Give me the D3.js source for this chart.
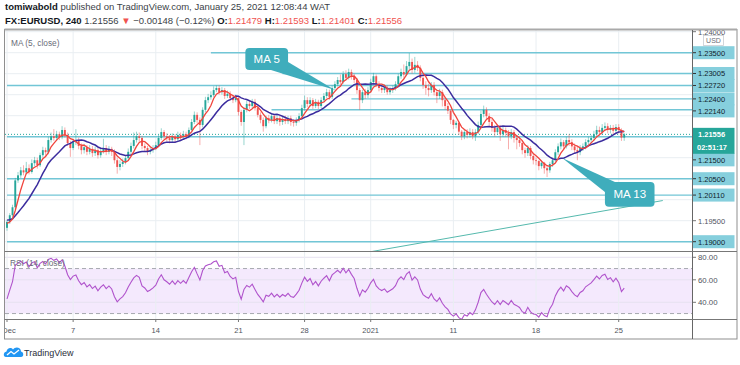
<!DOCTYPE html>
<html>
<head>
<meta charset="utf-8">
<script src="https://cdn.jsdelivr.net/npm/d3@7"></script>
<style>
  body { margin: 0; background: #fff; }
  svg text { font-family: "Liberation Sans", Arial, sans-serif; }
</style>
</head>
<body>
<div id="chart"></div>
<script>
// ---- data (EURUSD, 4h candles, 1 Dec 2020 -> 25 Jan 2021) ----

// closes from late November, only used to warm up the MA / RSI
const preCloses = [1.1962,1.1958,1.1950,1.1955,1.1948,1.1960,1.1966,1.1958,1.1962,1.1952,1.1945,1.1950,1.1942,1.1933];

const closes = [
  1.1947,1.1963,1.1982,1.2046,1.2058,1.2070,1.2065,1.2075,1.2066,1.2087,
  1.2094,1.2082,1.2106,1.2118,1.2113,1.2142,1.2151,1.2147,1.2156,1.2149,
  1.2166,1.2154,1.2135,1.2123,1.2137,1.2142,1.2128,1.2118,1.2125,1.2114,
  1.2121,1.2111,1.2118,1.2106,1.2116,1.2123,1.2114,1.2121,1.2114,1.2094,
  1.2078,1.2085,1.2090,1.2099,1.2114,1.2128,1.2142,1.2151,1.2147,1.2128,
  1.2123,1.2114,1.2118,1.2123,1.2130,1.2147,1.2161,1.2151,1.2147,1.2142,
  1.2151,1.2144,1.2154,1.2149,1.2156,1.2151,1.2166,1.2185,1.2202,1.2190,
  1.2178,1.2214,1.2237,1.2244,1.2249,1.2261,1.2266,1.2256,1.2261,1.2247,
  1.2252,1.2242,1.2237,1.2242,1.2209,1.2185,1.2214,1.2228,1.2223,1.2233,
  1.2218,1.2202,1.2190,1.2175,1.2194,1.2190,1.2199,1.2187,1.2194,1.2185,
  1.2192,1.2187,1.2194,1.2185,1.2183,1.2190,1.2199,1.2218,1.2237,1.2228,
  1.2237,1.2223,1.2233,1.2223,1.2237,1.2247,1.2256,1.2245,1.2266,1.2275,
  1.2285,1.2280,1.2299,1.2290,1.2304,1.2294,1.2285,1.2261,1.2237,1.2256,
  1.2249,1.2261,1.2280,1.2294,1.2275,1.2266,1.2261,1.2266,1.2256,1.2261,
  1.2266,1.2275,1.2294,1.2304,1.2298,1.2318,1.2328,1.2309,1.2321,1.2314,
  1.2290,1.2273,1.2266,1.2261,1.2273,1.2256,1.2247,1.2256,1.2237,1.2223,
  1.2212,1.2190,1.2178,1.2183,1.2162,1.2151,1.2161,1.2154,1.2161,1.2151,
  1.2161,1.2178,1.2204,1.2214,1.2199,1.2185,1.2171,1.2161,1.2171,1.2156,
  1.2166,1.2159,1.2151,1.2161,1.2147,1.2142,1.2135,1.2118,1.2111,1.2123,
  1.2104,1.2094,1.2092,1.2080,1.2088,1.2075,1.2070,1.2085,1.2094,1.2113,
  1.2127,1.2137,1.2127,1.2142,1.2137,1.2127,1.2118,1.2113,1.2123,1.2127,
  1.2137,1.2142,1.2147,1.2156,1.2166,1.2161,1.2171,1.2175,1.2166,1.2171,
  1.2164,1.2173,1.2166,1.21479,1.21556
];

const highs = [
  1.1952,1.1968,1.1988,1.2052,1.2066,1.2078,1.2082,1.2090,1.2084,1.2096,
  1.2102,1.2100,1.2112,1.2126,1.2124,1.2150,1.2160,1.2168,1.2164,1.2162,
  1.2175,1.2172,1.2160,1.2140,1.2145,1.2168,1.2148,1.2134,1.2133,1.2130,
  1.2130,1.2128,1.2126,1.2124,1.2124,1.2145,1.2130,1.2128,1.2126,1.2120,
  1.2100,1.2094,1.2098,1.2106,1.2122,1.2136,1.2160,1.2162,1.2160,1.2152,
  1.2134,1.2128,1.2126,1.2130,1.2138,1.2155,1.2170,1.2166,1.2158,1.2154,
  1.2158,1.2156,1.2162,1.2160,1.2164,1.2162,1.2172,1.2192,1.2210,1.2208,
  1.2196,1.2220,1.2245,1.2252,1.2258,1.2270,1.2272,1.2272,1.2268,1.2266,
  1.2260,1.2258,1.2248,1.2250,1.2246,1.2214,1.2220,1.2236,1.2236,1.2240,
  1.2240,1.2224,1.2208,1.2196,1.2200,1.2202,1.2206,1.2204,1.2202,1.2200,
  1.2198,1.2200,1.2200,1.2200,1.2192,1.2196,1.2206,1.2226,1.2248,1.2244,
  1.2244,1.2242,1.2240,1.2238,1.2244,1.2254,1.2264,1.2262,1.2272,1.2282,
  1.2292,1.2298,1.2306,1.2308,1.2312,1.2310,1.2300,1.2290,1.2266,1.2262,
  1.2264,1.2268,1.2288,1.2302,1.2298,1.2282,1.2272,1.2274,1.2272,1.2268,
  1.2272,1.2282,1.2300,1.2312,1.2322,1.2330,1.2349,1.2336,1.2340,1.2330,
  1.2320,1.2296,1.2282,1.2276,1.2280,1.2280,1.2262,1.2264,1.2262,1.2244,
  1.2230,1.2214,1.2192,1.2188,1.2186,1.2166,1.2168,1.2168,1.2170,1.2168,
  1.2168,1.2186,1.2212,1.2224,1.2220,1.2206,1.2192,1.2178,1.2178,1.2178,
  1.2174,1.2172,1.2166,1.2168,1.2166,1.2154,1.2150,1.2140,1.2124,1.2130,
  1.2128,1.2110,1.2100,1.2094,1.2094,1.2090,1.2082,1.2090,1.2100,1.2120,
  1.2134,1.2146,1.2142,1.2150,1.2156,1.2144,1.2134,1.2126,1.2130,1.2134,
  1.2144,1.2150,1.2154,1.2164,1.2176,1.2174,1.2180,1.2184,1.2182,1.2178,
  1.2178,1.2180,1.2180,1.2170,1.21593
];

const lows = [
  1.1926,1.1942,1.1958,1.1978,1.2040,1.2052,1.2058,1.2060,1.2060,1.2062,
  1.2080,1.2074,1.2078,1.2100,1.2104,1.2108,1.2136,1.2140,1.2140,1.2142,
  1.2144,1.2148,1.2128,1.2102,1.2118,1.2130,1.2120,1.2108,1.2110,1.2106,
  1.2108,1.2102,1.2104,1.2098,1.2100,1.2110,1.2106,1.2108,1.2104,1.2086,
  1.2062,1.2070,1.2078,1.2084,1.2094,1.2108,1.2122,1.2136,1.2138,1.2120,
  1.2114,1.2106,1.2108,1.2112,1.2118,1.2126,1.2142,1.2144,1.2138,1.2134,
  1.2136,1.2136,1.2140,1.2142,1.2144,1.2144,1.2146,1.2160,1.2180,1.2182,
  1.2130,1.2172,1.2208,1.2230,1.2238,1.2244,1.2256,1.2250,1.2250,1.2240,
  1.2242,1.2236,1.2230,1.2232,1.2200,1.2176,1.2130,1.2208,1.2216,1.2218,
  1.2212,1.2196,1.2182,1.2162,1.2170,1.2182,1.2184,1.2180,1.2180,1.2176,
  1.2178,1.2180,1.2180,1.2176,1.2174,1.2176,1.2184,1.2194,1.2212,1.2220,
  1.2222,1.2216,1.2218,1.2216,1.2218,1.2232,1.2242,1.2238,1.2240,1.2260,
  1.2270,1.2274,1.2276,1.2284,1.2286,1.2286,1.2278,1.2252,1.2214,1.2230,
  1.2240,1.2242,1.2256,1.2274,1.2268,1.2258,1.2254,1.2254,1.2250,1.2250,
  1.2254,1.2260,1.2270,1.2288,1.2290,1.2294,1.2310,1.2300,1.2302,1.2306,
  1.2282,1.2264,1.2250,1.2246,1.2254,1.2248,1.2230,1.2240,1.2222,1.2214,
  1.2204,1.2180,1.2168,1.2170,1.2154,1.2142,1.2144,1.2146,1.2148,1.2144,
  1.2140,1.2156,1.2172,1.2196,1.2192,1.2176,1.2162,1.2150,1.2154,1.2140,
  1.2150,1.2150,1.2120,1.2144,1.2136,1.2120,1.2126,1.2108,1.2100,1.2104,
  1.2096,1.2084,1.2082,1.2070,1.2074,1.2062,1.2054,1.2064,1.2078,1.2088,
  1.2106,1.2120,1.2118,1.2122,1.2128,1.2118,1.2110,1.2094,1.2106,1.2116,
  1.2120,1.2130,1.2134,1.2140,1.2150,1.2152,1.2154,1.2164,1.2158,1.2158,
  1.2156,1.2158,1.2158,1.2140,1.21401
];

// time axis (candle index of each label)
const dateTickIdx = [0, 24, 54, 84, 108, 132, 162, 192, 222];
const dateTickLabels = ["Dec", "7", "14", "21", "28", "2021", "11", "18", "25"];

const priceTicks = [1.19, 1.195, 1.2, 1.205, 1.21, 1.215, 1.22, 1.225, 1.23, 1.235, 1.24];
const rsiTicks = [40, 60, 80];

// horizontal lines drawn by the author, and the candle index where each starts
const levels = [1.235, 1.23005, 1.2272, 1.224, 1.2214, 1.215, 1.205, 1.2011, 1.19];
const levelFrom = [74, 100, 0, 125, 96, 0, 0, 0, 0];

// trend line [index, price]
const trendStart = [131, 1.1875];
const trendEnd = [238, 1.1998];

const lastPrice = 1.21556;
const countdown = "02:51:17";

// callouts: box corners and pointer tip, in [index, price]
const calloutText = ["MA 5", "MA 13"];
const calloutBox = [[86.5, 1.2361, 102, 1.2309], [217, 1.2042, 235, 1.1983]];
const calloutTip = [[119, 1.2261], [201.5, 1.2099]];

// ---- layout ----
const svgWidth = 740, svgHeight = 365;
const paneL = 5, paneR = 692, paneT = 30, paneB = 251, rsiB = 319, axisB = 339, frameR = 737;

const upColor = "#26a69a", downColor = "#ef5350";
const levelColor = "#72c6d6";
const gridColor = "#e9eef2";

const x = d3.scaleLinear().domain([0, 248.6]).range([7, 692]);
const y = d3.scaleLinear().domain([1.19, 1.24]).range([241.7, 31.7]);
const yR = d3.scaleLinear().domain([40, 80]).range([302.3, 257.3]);

const svg = d3.select("#chart").append("svg")
    .attr("width", svgWidth)
    .attr("height", svgHeight);

const defs = svg.append("defs");
defs.append("clipPath").attr("id", "mainClip").append("rect")
    .attr("x", paneL).attr("y", paneT).attr("width", paneR - paneL).attr("height", paneB - paneT);
defs.append("clipPath").attr("id", "rsiClip").append("rect")
    .attr("x", paneL).attr("y", paneB).attr("width", paneR - paneL).attr("height", rsiB - paneB);
defs.append("clipPath").attr("id", "axisClip").append("rect")
    .attr("x", paneR).attr("y", paneT).attr("width", frameR - paneR).attr("height", axisB - paneT);
defs.append("clipPath").attr("id", "timeClip").append("rect")
    .attr("x", paneL).attr("y", rsiB).attr("width", paneR - paneL).attr("height", axisB - rsiB);

// indicators
const allCloses = preCloses.concat(closes);
const off = preCloses.length;
const opens = closes.map((c, i) => allCloses[i + off - 1]);

function movingAvg(n) {
    return closes.map((c, i) => d3.mean(allCloses.slice(i + off - n + 1, i + off + 1)));
}
function rsi(period) {
    const out = [];
    let ag = 0, al = 0;
    for (let k = 1; k < allCloses.length; k++) {
        const ch = allCloses[k] - allCloses[k - 1];
        const g = Math.max(ch, 0), l = Math.max(-ch, 0);
        if (k <= period) { ag += g / period; al += l / period; }
        else { ag = (ag * (period - 1) + g) / period; al = (al * (period - 1) + l) / period; }
        if (k >= off) out.push(al === 0 ? 100 : 100 - 100 / (1 + ag / al));
    }
    return out;
}
const ma5 = movingAvg(5);
const ma13 = movingAvg(13);
const rsi14 = rsi(14);

// ---- main pane ----
const main = svg.append("g").attr("clip-path", "url(#mainClip)");

main.selectAll(".hgrid").data(priceTicks).join("line")
    .attr("x1", paneL).attr("x2", paneR)
    .attr("y1", d => y(d)).attr("y2", d => y(d))
    .attr("stroke", gridColor);
main.selectAll(".vgrid").data(dateTickIdx).join("line")
    .attr("x1", d => x(d)).attr("x2", d => x(d))
    .attr("y1", paneT).attr("y2", paneB)
    .attr("stroke", gridColor);

main.selectAll(".level").data(levels).join("line")
    .attr("x1", (d, i) => Math.max(paneL, x(levelFrom[i]))).attr("x2", paneR)
    .attr("y1", d => y(d)).attr("y2", d => y(d))
    .attr("stroke", levelColor).attr("stroke-width", 1.4);

main.append("line")
    .attr("x1", x(trendStart[0])).attr("y1", y(trendStart[1]))
    .attr("x2", x(trendEnd[0])).attr("y2", y(trendEnd[1]))
    .attr("stroke", "#55b9ad").attr("stroke-width", 1);

// current price dotted line
main.append("line")
    .attr("x1", paneL).attr("x2", paneR)
    .attr("y1", y(lastPrice)).attr("y2", y(lastPrice))
    .attr("stroke", upColor).attr("stroke-dasharray", "1,2");

// candles
const idx = d3.range(closes.length);
const candleColor = i => closes[i] >= opens[i] ? upColor : downColor;
main.selectAll(".wick").data(idx).join("line")
    .attr("x1", i => x(i)).attr("x2", i => x(i))
    .attr("y1", i => y(highs[i])).attr("y2", i => y(lows[i]))
    .attr("stroke", candleColor).attr("stroke-opacity", 0.6).attr("stroke-width", 0.8);
main.selectAll(".body").data(idx).join("rect")
    .attr("x", i => x(i) - 0.95)
    .attr("width", 1.9)
    .attr("y", i => y(Math.max(opens[i], closes[i])))
    .attr("height", i => Math.max(0.8, Math.abs(y(opens[i]) - y(closes[i]))))
    .attr("fill", candleColor);

const lineGen = arr => d3.line().x((d, i) => x(i)).y(d => y(d))(arr);
main.append("path").attr("d", lineGen(ma13))
    .attr("fill", "none").attr("stroke", "#3b2c9e").attr("stroke-width", 1.5);
main.append("path").attr("d", lineGen(ma5))
    .attr("fill", "none").attr("stroke", "#f0443c").attr("stroke-width", 1.3);

// callouts
calloutText.forEach((t, k) => {
    const b = calloutBox[k], tip = calloutTip[k];
    const x0 = x(b[0]), y0 = y(b[1]), x1 = x(b[2]), y1 = y(b[3]);
    const tx = x(tip[0]), ty = y(tip[1]);
    // pointer base: bottom-right corner for MA 5, top-left for MA 13
    const base = k === 0
        ? [[x0 + 0.6 * (x1 - x0), y1], [x1, y1 - 8]]
        : [[x0 + 10, y0], [x0, y0 + 10]];
    main.append("path")
        .attr("d", `M${base[0][0]},${base[0][1]}L${tx},${ty}L${base[1][0]},${base[1][1]}Z`)
        .attr("fill", "#3fadbc");
    main.append("rect")
        .attr("x", x0).attr("y", y0).attr("width", x1 - x0).attr("height", y1 - y0)
        .attr("rx", 4).attr("fill", "#3fadbc");
    main.append("text")
        .attr("x", (x0 + x1) / 2).attr("y", (y0 + y1) / 2 + 4)
        .attr("text-anchor", "middle")
        .attr("font-size", 11.5).attr("fill", "#fff")
        .text(t);
});

svg.append("text")
    .attr("x", 11).attr("y", 45.5)
    .attr("font-size", 8.3).attr("fill", "#6a6d78")
    .text("MA (5, close)");

// ---- RSI pane ----
const rp = svg.append("g").attr("clip-path", "url(#rsiClip)");
rp.append("rect")
    .attr("x", paneL).attr("width", paneR - paneL)
    .attr("y", yR(70)).attr("height", yR(30) - yR(70))
    .attr("fill", "#f4e9fd");
rp.selectAll(".rgrid").data(rsiTicks).join("line")
    .attr("x1", paneL).attr("x2", paneR)
    .attr("y1", d => yR(d)).attr("y2", d => yR(d))
    .attr("stroke", "#e6e1f0");
rp.selectAll(".rvgrid").data(dateTickIdx).join("line")
    .attr("x1", d => x(d)).attr("x2", d => x(d))
    .attr("y1", paneB).attr("y2", rsiB)
    .attr("stroke", gridColor);
rp.selectAll(".band").data([70, 30]).join("line")
    .attr("x1", paneL).attr("x2", paneR)
    .attr("y1", d => yR(d)).attr("y2", d => yR(d))
    .attr("stroke", "#a6a8b0").attr("stroke-dasharray", "4,3");
rp.append("path")
    .attr("d", d3.line().x((d, i) => x(i)).y(d => yR(d))(rsi14))
    .attr("fill", "none").attr("stroke", "#b053cc").attr("stroke-width", 1.1);
svg.append("text")
    .attr("x", 10).attr("y", 266)
    .attr("font-size", 8.3).attr("fill", "#6a6d78")
    .text("RSI (14, close)");

// ---- price axis ----
const ax = svg.append("g").attr("clip-path", "url(#axisClip)");

// level labels, pushed down when they collide with the label above
const boxH = 12;
const curTop = y(lastPrice) - 6.5;
const items = levels.map(d => ({ v: d, c: y(d) })).sort((a, b) => a.c - b.c);
let prevBottom = -Infinity;
items.forEach(it => {
    let c = it.c;
    if (c - boxH / 2 < prevBottom) c = prevBottom + boxH / 2;
    // keep clear of the current price block
    if (c + boxH / 2 > curTop && c - boxH / 2 < curTop + 26) c = curTop + 26 + boxH / 2;
    it.pos = c;
    prevBottom = c + boxH / 2;
});

// plain tick labels only where no coloured label sits on top
const covered = p => items.some(it => Math.abs(y(p) - it.pos) < 10) ||
    (y(p) > curTop - 4 && y(p) < curTop + 30);
ax.selectAll(".ptick").data(priceTicks).join("line")
    .attr("x1", paneR).attr("x2", paneR + 4)
    .attr("y1", d => y(d)).attr("y2", d => y(d))
    .attr("stroke", "#777");
ax.selectAll(".plab").data(priceTicks.filter(p => !covered(p))).join("text")
    .attr("x", 698).attr("y", d => y(d) + 2.8)
    .attr("font-size", 7.5).attr("fill", "#50535e")
    .text(d => d.toFixed(5));

items.forEach(it => {
    ax.append("rect")
        .attr("x", paneR + 0.5).attr("y", it.pos - boxH / 2 - 0.5)
        .attr("width", 42).attr("height", boxH + 1)
        .attr("fill", "#86cfdd");
});
items.forEach(it => {
    ax.append("line")
        .attr("x1", paneR).attr("x2", paneR + 4)
        .attr("y1", it.pos).attr("y2", it.pos).attr("stroke", "#333");
    ax.append("text")
        .attr("x", 698).attr("y", it.pos + 2.8)
        .attr("font-size", 7.5).attr("fill", "#10222c")
        .text(it.v.toFixed(5));
});

// current price + countdown
ax.append("rect")
    .attr("x", paneR + 0.5).attr("y", curTop)
    .attr("width", 42).attr("height", 26)
    .attr("fill", upColor);
ax.append("text")
    .attr("x", 698).attr("y", y(lastPrice) + 2.8)
    .attr("font-size", 7.5).attr("font-weight", "bold").attr("fill", "#fff")
    .text(lastPrice.toFixed(5));
ax.append("text")
    .attr("x", 697).attr("y", curTop + 22.5)
    .attr("font-size", 7.5).attr("font-weight", "bold").attr("fill", "#fff")
    .text(countdown);

// currency box
ax.append("rect")
    .attr("x", 703.5).attr("y", 35.5).attr("width", 20).attr("height", 10)
    .attr("fill", "#fff").attr("stroke", "#c9ccd3").attr("stroke-width", 0.8);
ax.append("text")
    .attr("x", 713.5).attr("y", 43.2).attr("text-anchor", "middle")
    .attr("font-size", 7).attr("fill", "#6a6d78")
    .text("USD");

// RSI axis
svg.selectAll(".rlab").data(rsiTicks).join("text")
    .attr("x", 698).attr("y", d => yR(d) + 2.8)
    .attr("font-size", 7.8).attr("fill", "#50535e")
    .text(d => d.toFixed(2));
svg.selectAll(".rtick").data(rsiTicks).join("line")
    .attr("x1", paneR).attr("x2", paneR + 4)
    .attr("y1", d => yR(d)).attr("y2", d => yR(d))
    .attr("stroke", "#777");

// ---- time axis ----
const tg = svg.append("g").attr("clip-path", "url(#timeClip)");
tg.selectAll(".ttick").data(dateTickIdx).join("line")
    .attr("x1", d => x(d)).attr("x2", d => x(d))
    .attr("y1", rsiB).attr("y2", rsiB + 3)
    .attr("stroke", "#777");
tg.selectAll(".tlab").data(dateTickIdx).join("text")
    .attr("x", d => x(d) + (d === 0 ? 2 : 0)).attr("y", 332.5)
    .attr("text-anchor", "middle")
    .attr("font-size", 7.5).attr("fill", "#50535e")
    .text((d, i) => dateTickLabels[i]);

// ---- frame ----
const frame = svg.append("g").attr("stroke", "#8f8f8f").attr("fill", "none");
frame.append("rect")
    .attr("x", 4.5).attr("y", 29.5).attr("width", frameR - 4.5).attr("height", axisB - 29.5);
frame.append("line").attr("x1", 4.5).attr("x2", frameR).attr("y1", 29.5).attr("y2", 29.5)
    .attr("stroke", "#a9a9a9").attr("stroke-width", 2);
frame.append("line").attr("x1", paneR + 0.5).attr("x2", paneR + 0.5).attr("y1", paneT).attr("y2", axisB)
    .attr("stroke", "#666");
frame.append("line").attr("x1", 4.5).attr("x2", frameR).attr("y1", paneB + 0.5).attr("y2", paneB + 0.5)
    .attr("stroke", "#777");
frame.append("line").attr("x1", 4.5).attr("x2", frameR).attr("y1", rsiB + 0.5).attr("y2", rsiB + 0.5)
    .attr("stroke", "#777");

// ---- header ----
const h1 = svg.append("text").attr("x", 5).attr("y", 10).attr("font-size", 9.5).attr("fill", "#131722");
h1.append("tspan").attr("font-weight", "bold").text("tomiwabold");
h1.append("tspan").attr("fill", "#3c3f48").text(" published on TradingView.com, January 25, 2021 12:08:44 WAT");

const red = "#f05350";
const h2 = svg.append("text").attr("x", 5).attr("y", 23.5).attr("font-size", 9.5).attr("fill", "#131722");
h2.append("tspan").attr("font-weight", "bold").text("FX:EURUSD, 240");
h2.append("tspan").attr("fill", "#3c3f48").text("  1.21556 ");
h2.append("tspan").attr("fill", red).text("▼");
h2.append("tspan").attr("fill", "#3c3f48").text(" −0.00148 (−0.12%) ");
[["O:", "1.21479"], ["H:", "1.21593"], ["L:", "1.21401"], ["C:", "1.21556"]].forEach((p, i) => {
    h2.append("tspan").attr("font-weight", "bold").text((i ? " " : "") + p[0]);
    h2.append("tspan").attr("fill", red).text(p[1]);
});

// ---- TradingView logo ----
const logo = svg.append("g").attr("transform", "translate(4,345)");
logo.append("path")
    .attr("d", "M2,12 C-1,12 -1,7 2.5,6.5 C3,3 7,2 9,4.5 C11,1 17,2 17,6.5 C20,7 20,12 17,12 Z")
    .attr("fill", "#2196f3");
logo.append("path")
    .attr("d", "M3,10 L7,6.5 L10,9 L15,5")
    .attr("fill", "none").attr("stroke", "#fff").attr("stroke-width", 1.3);
svg.append("text")
    .attr("x", 24).attr("y", 355.5)
    .attr("font-size", 9).attr("fill", "#2a2e39")
    .text("TradingView");
</script>
</body>
</html>
